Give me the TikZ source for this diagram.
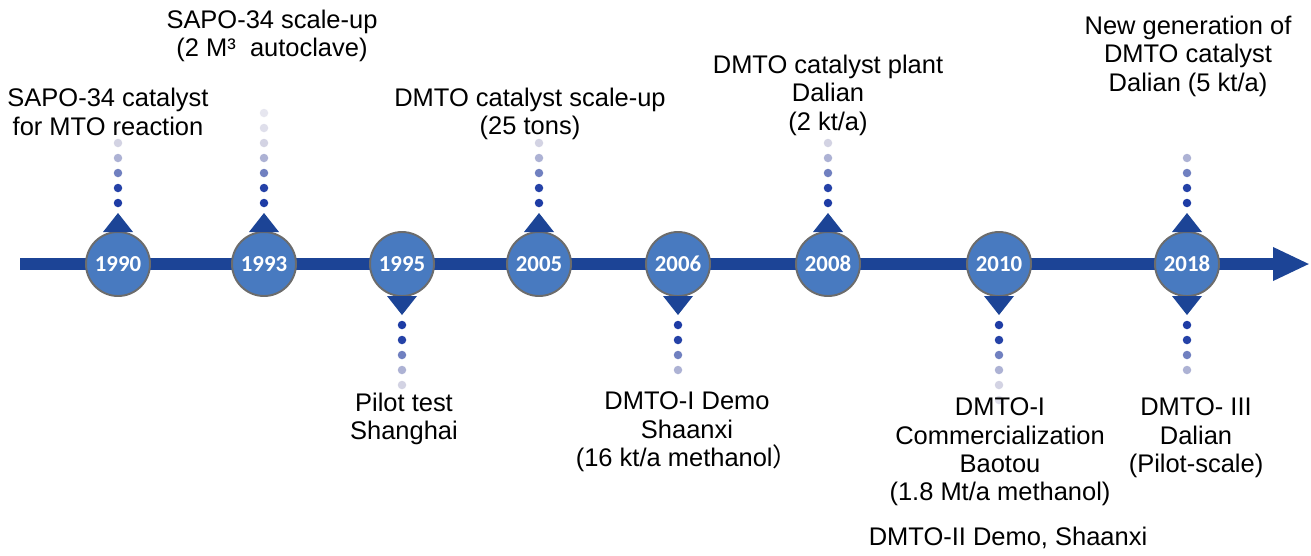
\documentclass[tikz,border=0pt]{standalone}
\usepackage{fontspec}
\setmainfont{Liberation Sans}
\newfontfamily\yearfont{Carlito}
\newfontfamily\cjkfont{Noto Sans CJK SC}
\usepackage{tikz}
\usetikzlibrary{arrows.meta, calc}

\definecolor{lineblue}{RGB}{28,68,150}
\definecolor{ballblue}{RGB}{72,122,192}
\definecolor{dotblue}{RGB}{30,60,165}
\definecolor{dotgray}{RGB}{175,175,205}

\begin{document}
\begin{tikzpicture}[
    x=0.02cm, y=-0.02cm,
    font=\fontsize{14.5}{16.2}\selectfont,
    axis/.style={
        line width=0.24cm,
        draw=lineblue,
        -{Triangle[length=0.74cm, width=0.62cm]}
    },
    year/.style={
        circle,
        fill=ballblue,
        draw=gray!85!black,
        line width=1.1pt,
        minimum size=1.28cm,
        inner sep=0pt,
        text=white,
        font=\yearfont\bfseries\fontsize{13}{13}\selectfont
    },
    marker/.style={
        fill=lineblue
    },
    event/.style={
        align=center,
        inner sep=0pt,
        text=black
    }
]

% Canvas
\fill[white] (0,0) rectangle (1311,555);
\useasboundingbox (0,0) rectangle (1311,555);

% Timeline axis
\coordinate (start) at (20,264);
\coordinate (end) at (1310,264);
\draw[axis] (start) -- (end);

% Year circles
\foreach \yr/\px in {1990/118, 1993/264, 1995/402, 2005/539, 2006/678, 2008/828, 2010/999, 2018/1187} {
    \node[year] (y\yr) at (\px,264) {\yr};
}

% Markers: triangle and fading dots (-1 up, 1 down)
\foreach \yr/\d/\n in {1990/-1/5, 1993/-1/7, 1995/1/5, 2005/-1/5, 2006/1/4, 2008/-1/5, 2010/1/6, 2018/-1/4, 2018/1/4} {
    \fill[marker] ($(y\yr)+(-15,\d*32)$) -- ($(y\yr)+(15,\d*32)$) -- ($(y\yr)+(0,\d*51)$) -- cycle;
    \foreach \k in {1,...,\n} {
        \pgfmathtruncatemacro\mix{min(100,max(0,130-35*(\k-1)))}
        \pgfmathsetmacro\op{min(1,max(0.3,1.15-0.15*(\k-1)))}
        \pgfmathsetmacro\off{\d*(61+15*(\k-1))}
        \fill[dotblue!\mix!dotgray, opacity=\op] ($(y\yr)+(0,\off)$) circle (0.085cm);
    }
}

% Events above the axis
\node[event] (e1990) at (108,112) {SAPO-34 catalyst\\for MTO reaction};
\node[event] (e1993) at (272,36) {SAPO-34 scale-up\\(2 M³ \ autoclave)};
\node[event] (e2005) at (530,114) {DMTO catalyst scale-up\\(25 tons)};
\node[event] (e2008) at (828,95) {DMTO catalyst plant\\Dalian\\(2 kt/a)};
\node[event] (e2018) at (1188,56) {New generation of\\DMTO catalyst\\Dalian (5 kt/a)};

% Events below the axis
\node[event] (e1995) at (404,419) {Pilot test\\Shanghai};
\node[event] (e2006) at (687,432) {DMTO-I Demo\\Shaanxi\\(16 kt/a methanol{\cjkfont ）}};
\node[event] (e2010) at (1000,452) {DMTO-I\\Commercialization\\Baotou\\(1.8 Mt/a methanol)};
\node[event] (e2010b) at (1008,538) {DMTO-II Demo, Shaanxi};
\node[event] (e2018b) at (1196,438) {DMTO- III\\Dalian\\(Pilot-scale)};

\end{tikzpicture}
\end{document}
